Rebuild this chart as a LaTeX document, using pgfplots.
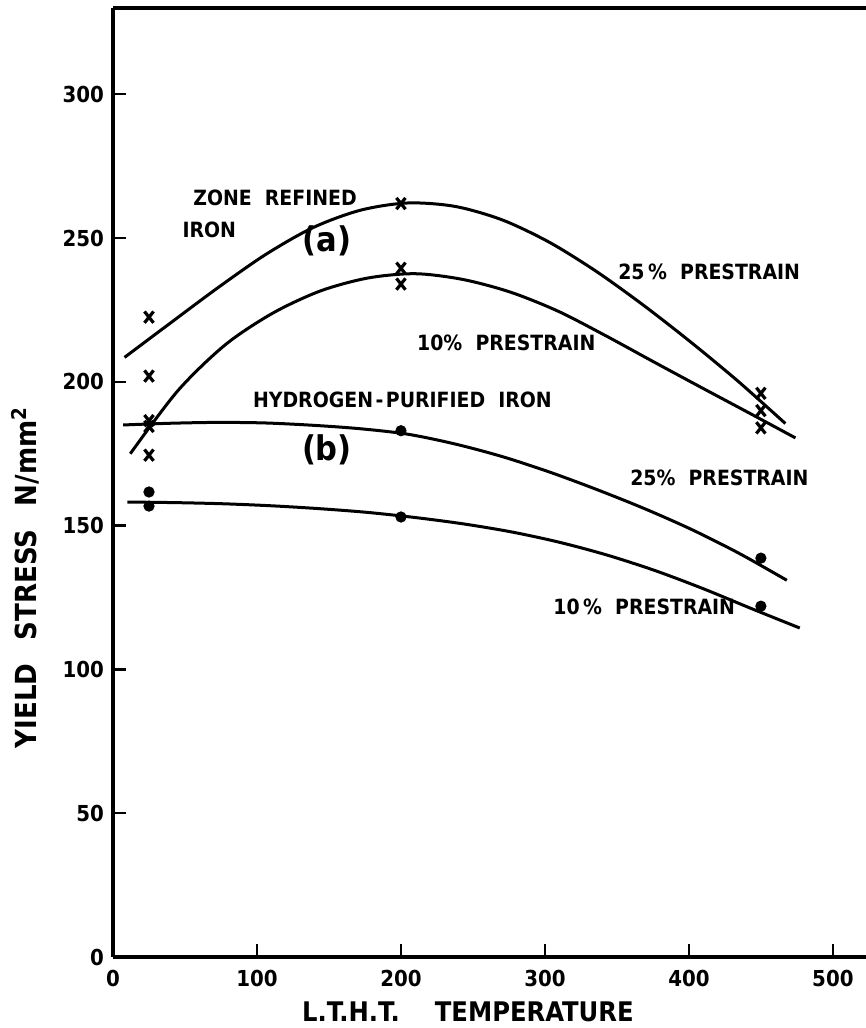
\documentclass[border=0pt]{standalone}
\usepackage{fontspec}
\setmainfont{DejaVu Sans Condensed}
\usepackage{pgfplots}
\pgfplotsset{compat=1.18}
\usetikzlibrary{calc}

\begin{document}
\begin{tikzpicture}
\begin{axis}[
  name=ax,
  scale only axis,
  width=376.5pt, height=474.5pt,
  xmin=0, xmax=523, ymin=0, ymax=330,
  axis x line*=bottom, axis y line*=left,
  x axis line style={-, line width=2pt},
  y axis line style={-, line width=2pt},
  xtick={0,100,...,500}, ytick={0,50,...,300},
  tick align=inside,
  major tick length=6.5pt,
  x tick style={line width=1pt, black},
  y tick style={line width=1.2pt, black},
  tick label style={font=\fontsize{11}{13}\selectfont\bfseries},
  /pgf/number format/assume math mode=true,
  xticklabel style={yshift=-3pt},
  yticklabel style={xshift=-1pt},
  clip=false,
]
% top frame line
\draw[line width=1.6pt] (rel axis cs:0,1) -- (rel axis cs:1,1);

% (a) zone refined iron, 25% prestrain
\addplot[line width=1.5pt, smooth, tension=0.5] coordinates {
  (8,208.5) (40.8,220.8) (73.6,233.0) (106.4,244.4) (139.2,253.7)
  (172,259.7) (204.8,262.2) (237.6,261.0) (270.4,256.3) (303.2,248.5)
  (336,238.3) (368.8,226.5) (401.6,213.7) (434.4,200.1) (467,185.5)};
% (a) zone refined iron, 10% prestrain
\addplot[line width=1.5pt, smooth, tension=0.5] coordinates {
  (12,175) (45,196.9) (78,212.9) (111,223.9) (144,231.6) (177,236.1)
  (210,237.6) (243,235.6) (276,231.2) (309,224.6) (342,216.1)
  (375,207.1) (408,198.2) (441,189.4) (474,180.5)};
% (b) hydrogen-purified iron, 25% prestrain
\addplot[line width=1.5pt, smooth, tension=0.5] coordinates {
  (7,185) (39.9,185.6) (72.9,185.9) (105.8,185.7) (138.7,184.9)
  (171.6,183.7) (204.6,181.8) (237.5,178.4) (270.4,174.0) (303.4,168.6)
  (336.3,162.5) (369.2,155.9) (402.1,148.6) (435.1,140.3) (468,131)};
% (b) hydrogen-purified iron, 10% prestrain
\addplot[line width=1.5pt, smooth, tension=0.5] coordinates {
  (10,158.2) (43.4,158.0) (76.7,157.6) (110.1,156.9) (143.4,155.9)
  (176.8,154.6) (210.2,152.8) (243.5,150.6) (276.9,147.8) (310.2,144.2)
  (343.6,139.7) (376.9,134.3) (410.3,128.0) (443.7,121.1) (477,114.4)};

% measured points, zone refined iron
\addplot[only marks, mark=x, mark size=3.2pt, line width=1.6pt,
  mark options={yscale=1.25}] coordinates {
  (25,222.5) (25,202) (25,186.5) (25,184.5) (25,174.5)
  (200,262) (200,239.5) (200,234)
  (450,196) (450,190) (450,184)};
% measured points, hydrogen-purified iron
\addplot[only marks, mark=*, mark size=2.6pt, black] coordinates {
  (25,161.7) (25,156.8) (200,183) (200,153) (450,138.7) (450,122)};

% curve annotations
\begin{scope}[every node/.style={font=\fontsize{10.5}{12}\selectfont\bfseries, inner sep=0pt}]
\node[anchor=west] at (axis cs:55.5,264) {ZONE\ \ REFINED};
\node[anchor=west] at (axis cs:48,252.8) {IRON};
\node[anchor=west] at (axis cs:350.7,238.2) {25\,\%\ \ PRESTRAIN};
\node[anchor=west] at (axis cs:211,213.5) {10\%\ \ PRESTRAIN};
\node[anchor=west] at (axis cs:97,193.7) {HYDROGEN\hspace{0.12em}-\hspace{0.12em}PURIFIED\ \ IRON};
\node[anchor=west] at (axis cs:359,166.5) {25\%\ \ PRESTRAIN};
\node[anchor=west] at (axis cs:305.6,121.7) {10\,\%\ \ PRESTRAIN};
\node[font=\fontsize{17}{19}\selectfont\bfseries] at (axis cs:148.6,249) {(a)};
\node[font=\fontsize{17}{19}\selectfont\bfseries] at (axis cs:148.6,176.3) {(b)};
\end{scope}
\end{axis}

% axis titles
\node[rotate=90, anchor=base, font=\fontsize{14.5}{17}\selectfont\bfseries, inner sep=0pt]
  at ($(ax.south west)+(-38pt,189.75pt)$) {YIELD\hspace{0.8em}STRESS\hspace{0.8em}N/mm\textsuperscript{2}};
\node[anchor=base, font=\fontsize{13.5}{16}\selectfont\bfseries, inner sep=0pt]
  at ($(ax.south west)!0.4713!(ax.south east)+(0,-32.5pt)$) {L.T.H.T.\hspace{1.3em}TEMPERATURE};

\pgfresetboundingbox
\path ($(ax.south west)+(-56.5pt,-35.5pt)$) rectangle ($(ax.north east)+(0pt,4pt)$);
\end{tikzpicture}
\end{document}
